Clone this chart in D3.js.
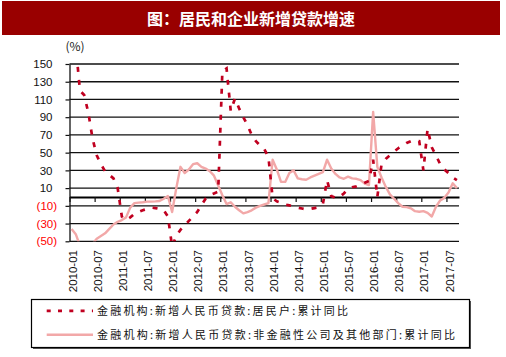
<!DOCTYPE html>
<html><head><meta charset="utf-8">
<script src="https://cdn.jsdelivr.net/npm/d3@7"></script>
<style>body{margin:0;background:#fff} svg{display:block}</style>
</head><body><svg id="c" width="506" height="357"></svg>
<script>
// ---- data ----
const title = "图：居民和企业新增贷款增速";
const unitLabel = "(%)";
const monthCount = 93; // 2010-01 .. 2017-09
const categories = d3.timeMonths(new Date(2010, 0, 1), new Date(2010, monthCount, 1)).map(d3.timeFormat("%Y-%m"));
const household = [190,170,120,115,95,66,47,37,29,25,21,10,-22,-26,-23,-19,-17,-15,-13.5,-12,-12.5,-13.5,-15,-22,
  -56,-44,-37,-32,-27,-22,-17,-9,-2,2,4,6,142,145,97,111,100,90,81,70,63,58,54,45,
  -1,-5,-6.5,-8.5,-9.5,-10.5,-12,-13,-14,-13.5,-12.5,-11.5,-8,19,1,-1,0,4,9,11,12,14,16,18,
  42,0,37,43,47,51,55,58,61,63,64,63,30,77,56,47,37,31,27,22,19];
const corporate = [-36,-42,-55,-62,-62,-53,-47,-44,-41,-36,-31,-28,-26,-23,-12,-7,-6.4,-6,-5.3,-5.2,-5,-4.5,-2,1,
  -17,10,34,27,31,37,38,34,32,29,24,13,2,-8,-6,-11,-15,-18.5,-17,-15,-12,-10,-8.5,-7,
  42,31,17,17,27,30,21,20,19.5,22,24,26,28,42,32,26,22,20.5,23,21,20.5,19,15,13.5,
  96,34,22,11.6,3,-2,-7,-11,-11.5,-12.8,-16,-16.6,-16,-18,-22,-11,-4,-1,5,15.5,10];
const yTicks = [150,130,110,90,70,50,30,10,-10,-30,-50];
const xTickLabels = ["2010-01","2010-07","2011-01","2011-07","2012-01","2012-07","2013-01","2013-07",
  "2014-01","2014-07","2015-01","2015-07","2016-01","2016-07","2017-01","2017-07"];
const seriesNames = ["金融机构:新增人民币贷款:居民户:累计同比",
  "金融机构:新增人民币贷款:非金融性公司及其他部门:累计同比"];

// ---- drawing ----
const svg = d3.select("#c");
const RED = "#c00020", PINK = "#f2a8a8";
const x = d3.scaleLinear().domain([0, monthCount]).range([69.5, 459]);
const y = d3.scaleLinear().domain([-50, 150]).range([241.3, 64]);

svg.append("rect").attr("width", 506).attr("height", 357).attr("fill", "#fff");
// title bar
svg.append("rect").attr("x", 2).attr("y", 1).attr("width", 498).attr("height", 34).attr("fill", "#990000");
svg.append("text").attr("x", 251).attr("y", 24.5).attr("text-anchor", "middle")
  .attr("font-family", "Noto Sans CJK SC").attr("font-weight", "bold").attr("font-size", 16)
  .attr("fill", "#fff").text(title);
svg.append("text").attr("x", 75).attr("y", 51).attr("text-anchor", "middle")
  .attr("font-family", "Noto Sans CJK SC").attr("font-size", 12).attr("fill", "#222").text(unitLabel);

// gridlines
svg.append("g").selectAll("line").data(yTicks).join("line")
  .attr("x1", x(0)).attr("x2", x(monthCount)).attr("y1", d => y(d)).attr("y2", d => y(d))
  .attr("stroke", "#111").attr("stroke-width", 1.3);

// y axis
const yAxis = svg.append("g").attr("transform", `translate(${x(0)},0)`)
  .call(d3.axisLeft(y).tickValues(yTicks).tickSize(4).tickSizeOuter(0)
    .tickFormat(d => d < 0 ? `(${Math.abs(d)})` : `${d}`));
yAxis.select(".domain").attr("stroke", "#111").attr("stroke-width", 1.3);
yAxis.selectAll(".tick line").attr("stroke", "#111").attr("stroke-width", 1.2);
yAxis.selectAll(".tick text")
  .attr("x", d => d < 0 ? -12.5 : -17)
  .attr("font-family", "Liberation Sans, Arial, sans-serif").attr("font-size", 11.5)
  .attr("fill", d => d < 0 ? "#ff0000" : "#111");

// x axis at zero
const tickIdx = xTickLabels.map(l => categories.indexOf(l));
const xAxis = svg.append("g").attr("transform", `translate(0,${y(0)})`)
  .call(d3.axisBottom(x).tickValues(tickIdx).tickSize(5).tickSizeOuter(0).tickFormat(""));
xAxis.select(".domain").attr("stroke", "#000").attr("stroke-width", 2);
xAxis.selectAll(".tick line").attr("stroke", "#111").attr("stroke-width", 1.2);

svg.append("g").selectAll("text").data(xTickLabels).join("text")
  .attr("transform", (d, k) => `translate(${x(tickIdx[k] + 0.5) + 1},250) rotate(-90)`)
  .attr("dy", "0.35em").attr("text-anchor", "end")
  .attr("font-family", "Liberation Sans, Arial, sans-serif").attr("font-size", 11.5).attr("fill", "#111")
  .text(d => d);

// clip
svg.append("clipPath").attr("id", "plot").append("rect")
  .attr("x", x(0)).attr("y", y(150)).attr("width", x(monthCount) - x(0)).attr("height", y(-50) - y(150));

const line = d3.line().x((d, i) => x(i + 0.5)).y(d => y(d));
const plot = svg.append("g").attr("clip-path", "url(#plot)");
plot.append("path").datum(corporate).attr("d", line).attr("fill", "none")
  .attr("stroke", PINK).attr("stroke-width", 2.4).attr("stroke-linejoin", "round");
plot.append("path").datum(household).attr("d", line).attr("fill", "none")
  .attr("stroke", RED).attr("stroke-width", 2.7).attr("stroke-dasharray", "5,8");

// legend
const lg = svg.append("g");
lg.append("rect").attr("x", 33).attr("y", 301).attr("width", 438).attr("height", 48).attr("fill", "#555");
lg.append("rect").attr("x", 31.5).attr("y", 299.5).attr("width", 438).attr("height", 48)
  .attr("fill", "#fff").attr("stroke", "#000").attr("stroke-width", 1.2);
const rows = [{name: seriesNames[0], color: RED, dash: "4,7.3", w: 2.7, y: 310.8, len: 251},
              {name: seriesNames[1], color: PINK, dash: null, w: 2.4, y: 334.8, len: 358}];
rows.forEach(r => {
  lg.append("line").attr("x1", 46.7).attr("x2", 93).attr("y1", r.y).attr("y2", r.y)
    .attr("stroke", r.color).attr("stroke-width", r.w).attr("stroke-dasharray", r.dash);
  lg.append("text").attr("x", 97).attr("y", r.y + 4).attr("textLength", r.len).attr("lengthAdjust", "spacing")
    .attr("font-family", "Noto Sans CJK SC").attr("font-size", 11).attr("fill", "#111").text(r.name);
});
</script></body></html>
